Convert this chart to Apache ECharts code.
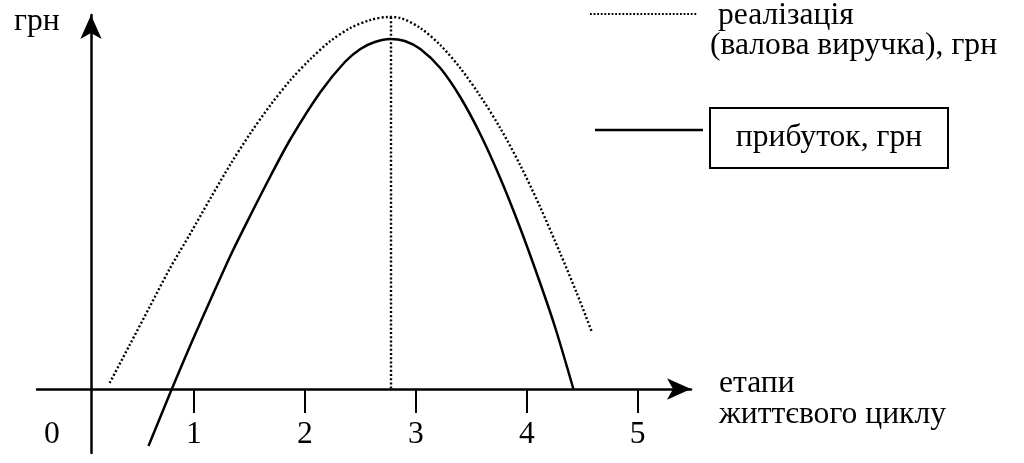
<!DOCTYPE html>
<html>
<head>
<meta charset="utf-8">
<script src="https://cdn.jsdelivr.net/npm/echarts@6/dist/echarts.min.js"></script>
<style>
html,body{margin:0;padding:0;background:#fff;}
#chart{width:1024px;height:463px;}
</style>
</head>
<body>
<div id="chart"></div>
<script>
// Life-cycle stages (x) and values (y, arbitrary грн units)
const stageTicks = [1, 2, 3, 4, 5];
const originLabel = '0';
const revenueX = [0.24, 0.42, 0.60, 0.78, 0.97, 1.15, 1.33, 1.51, 1.69, 1.87, 2.05, 2.23, 2.41, 2.59, 2.75, 2.86, 3.04, 3.22, 3.40, 3.58, 3.76, 3.94, 4.12, 4.30, 4.45, 4.59];
const revenueY = [6, 44, 82, 120, 156, 191, 225, 256, 284, 309, 330, 348, 361, 369, 372, 371, 361, 344, 321, 293, 261, 224, 182, 136, 96, 56];
const profitX = [0.59, 0.80, 0.98, 1.16, 1.34, 1.51, 1.69, 1.87, 2.14, 2.36, 2.50, 2.63, 2.77, 2.90, 3.04, 3.22, 3.40, 3.58, 3.76, 3.94, 4.12, 4.26, 4.42];
const profitY = [-57, 0, 47, 92, 136, 174, 213, 250, 297, 327, 340, 347, 350, 348, 340, 321, 292, 255, 211, 161, 106, 60, 0];
const peakX = 2.77;
const peakRevenue = 372;
const texts = {
  yName: 'грн',
  xName: 'етапи\nжиттєвого циклу',
  revenue1: 'реалізація',
  revenue2: '(валова виручка), грн',
  profit: 'прибуток, грн'
};

const FONT = 'Liberation Serif';
const FS = 31.6;
const zip = (xs, ys) => xs.map((x, i) => [x, ys[i]]);
const fontStr = FS + 'px "' + FONT + '"';

const chart = echarts.init(document.getElementById('chart'));
chart.setOption({
  animation: false,
  backgroundColor: '#fff',
  grid: { left: 37, right: 333, top: 15, bottom: 10, outerBoundsMode: 'none', containLabel: false },
  xAxis: {
    type: 'value',
    min: -0.415,
    max: 5.48,
    splitLine: { show: false },
    axisLine: {
      onZero: true,
      symbol: ['none', 'arrow'],
      symbolSize: [16, 24],
      lineStyle: { color: '#000', width: 2.5 }
    },
    axisTick: {
      show: true,
      customValues: stageTicks,
      length: 24,
      lineStyle: { color: '#000', width: 2 }
    },
    axisLabel: {
      show: true,
      customValues: [-0.28].concat(stageTicks),
      formatter: v => (v < 0 ? originLabel : String(v)),
      margin: -34,
      fontFamily: FONT,
      fontSize: FS,
      color: '#000'
    }
  },
  yAxis: {
    type: 'value',
    min: -64,
    max: 374,
    offset: -54,
    splitLine: { show: false },
    axisLabel: { show: false },
    axisTick: { show: false },
    axisLine: {
      show: true,
      onZero: false,
      symbol: ['none', 'arrow'],
      symbolSize: [16, 24],
      lineStyle: { color: '#000', width: 2.5 }
    }
  },
  graphic: [
    { type: 'text', x: 14, y: 22,
      style: { text: texts.yName, font: fontStr, fill: '#000', verticalAlign: 'middle' } },
    { type: 'text', x: 719, y: 399,
      style: { text: texts.xName, font: fontStr, fill: '#000', verticalAlign: 'middle', lineHeight: 31 } },
    { type: 'line', shape: { x1: 590, y1: 14, x2: 697, y2: 14 },
      style: { stroke: '#000', lineWidth: 1.8, lineDash: [1.8, 1.8] } },
    { type: 'text', x: 718, y: 16,
      style: { text: texts.revenue1, font: fontStr, fill: '#000', verticalAlign: 'middle' } },
    { type: 'text', x: 710, y: 46,
      style: { text: texts.revenue2, font: fontStr, fill: '#000', verticalAlign: 'middle' } },
    { type: 'line', shape: { x1: 595, y1: 130, x2: 703, y2: 130 },
      style: { stroke: '#000', lineWidth: 2.5 } },
    { type: 'rect', shape: { x: 710, y: 108, width: 238, height: 60 },
      style: { fill: '#fff', stroke: '#000', lineWidth: 2 } },
    { type: 'text', x: 829, y: 138,
      style: { text: texts.profit, font: fontStr, fill: '#000',
               align: 'center', verticalAlign: 'middle' } }
  ],
  series: [
    {
      name: 'реалізація',
      type: 'line',
      smooth: 0.3,
      showSymbol: false,
      data: zip(revenueX, revenueY),
      lineStyle: { color: '#000', width: 2.4, type: [2, 2.2] },
      markLine: {
        silent: true,
        symbol: ['none', 'none'],
        label: { show: false },
        lineStyle: { color: '#000', width: 2.4, type: [2, 2.2] },
        data: [[{ coord: [peakX, peakRevenue] }, { coord: [peakX, 0] }]]
      }
    },
    {
      name: 'прибуток',
      type: 'line',
      smooth: 0.3,
      showSymbol: false,
      data: zip(profitX, profitY),
      lineStyle: { color: '#000', width: 2.5 }
    }
  ]
});
</script>
</body>
</html>
